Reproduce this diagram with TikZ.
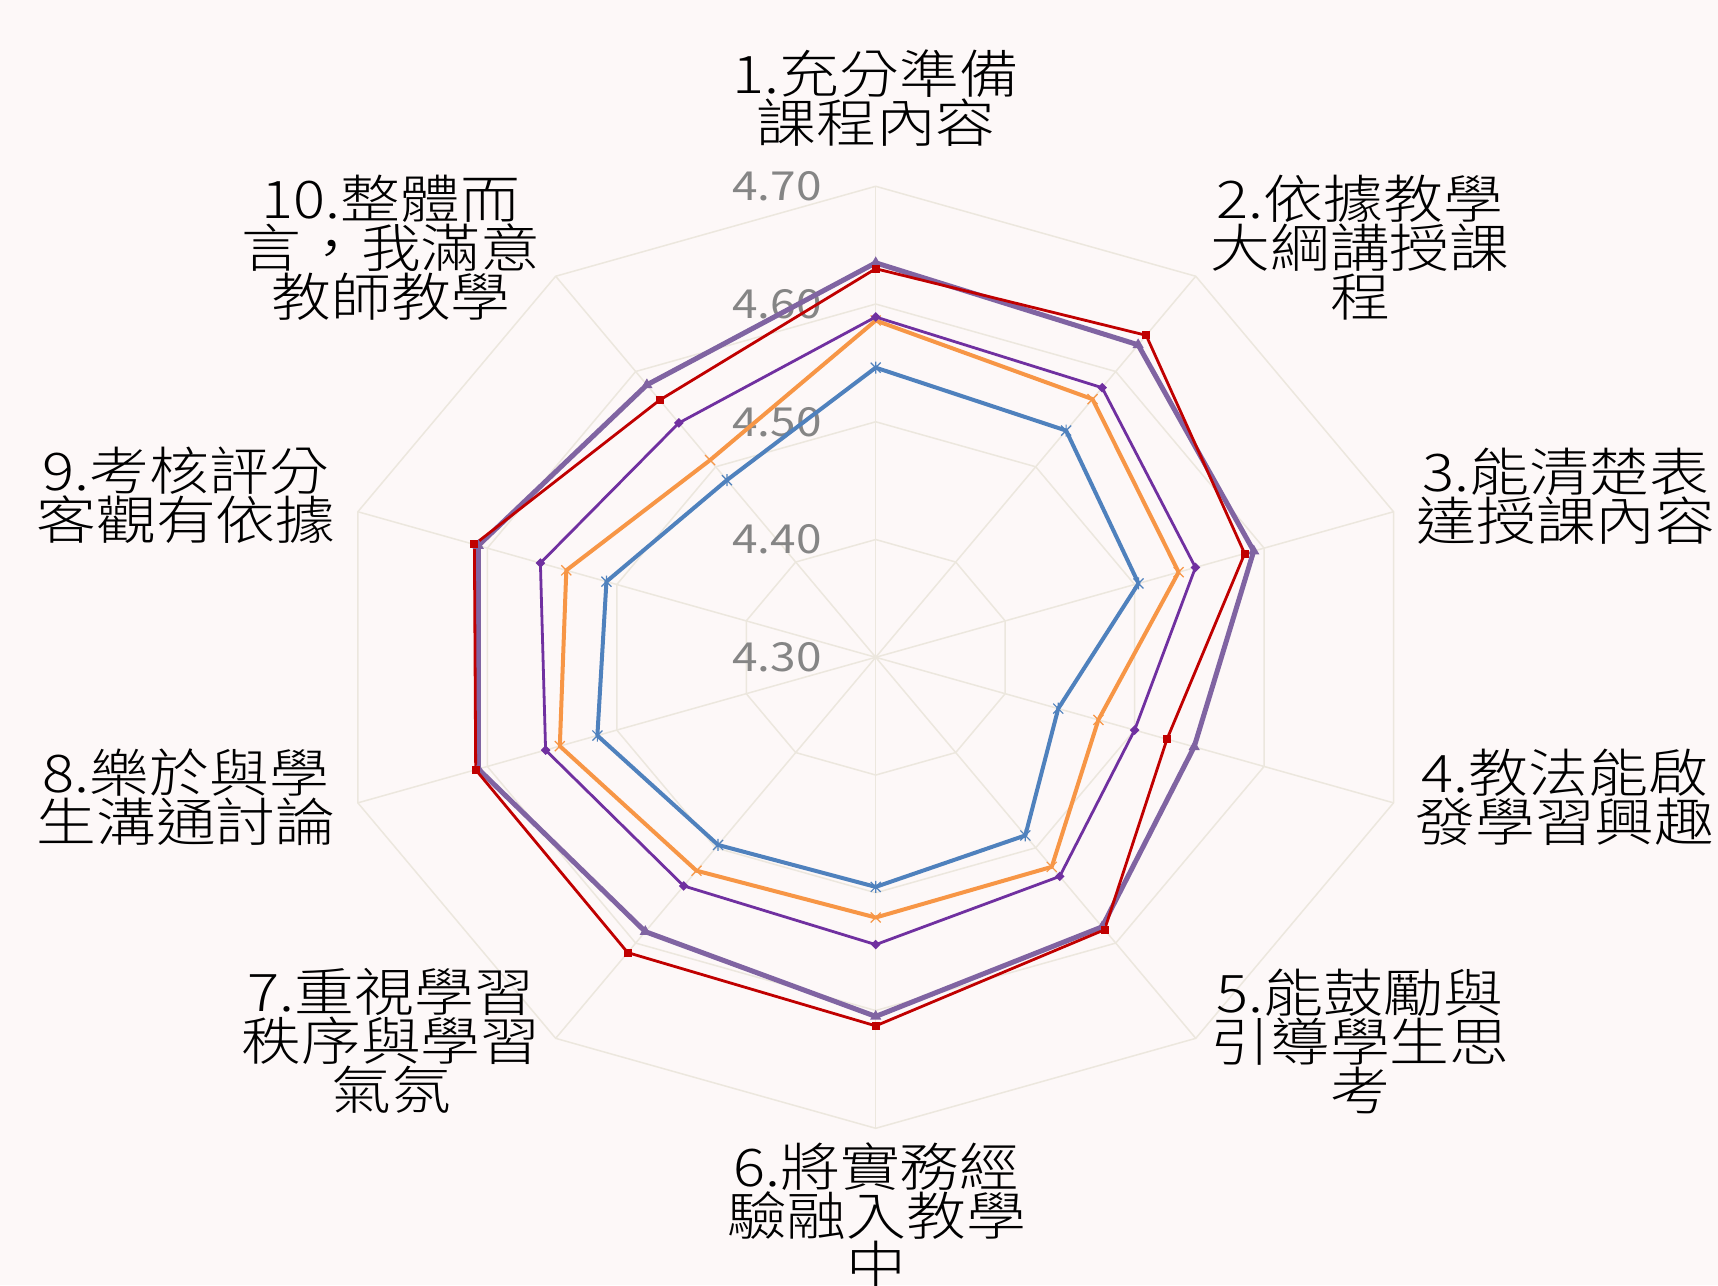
\documentclass[tikz,border=0pt]{standalone}
\usepackage{fontspec}
\setmainfont[FakeStretch=1.15]{Noto Sans CJK TC Light}
\newfontfamily\tickfont[FakeStretch=1.15]{Noto Sans CJK TC}
\usetikzlibrary{shapes.geometric}
\definecolor{bgc}{HTML}{FDF8F8}
\definecolor{gridc}{HTML}{ECE7DE}
\definecolor{sblue}{HTML}{4F81BD}
\definecolor{sorange}{HTML}{F79646}
\definecolor{spurple}{HTML}{7030A0}
\definecolor{sred}{HTML}{C00000}
\definecolor{slav}{HTML}{8064A2}
\definecolor{tickc}{HTML}{858585}
\tikzset{
  gridline/.style={draw=gridc, line width=0.75pt},
  lab/.style={align=center, inner sep=0pt, text=black, font=\fontsize{26}{24.5}\selectfont},
  ticklab/.style={anchor=east, inner sep=0pt, text=tickc, font=\tickfont\fontsize{20}{22}\selectfont},
  serblue/.style={draw=sblue, line width=2pt, line join=round},
  serorange/.style={draw=sorange, line width=2pt, line join=round},
  serpurple/.style={draw=spurple, line width=1.4pt, line join=round},
  serred/.style={draw=sred, line width=1.4pt, line join=round},
  serlav/.style={draw=slav, line width=2.5pt, line join=round},
  mkred/.style={rectangle, fill=sred, minimum size=4pt, inner sep=0pt},
  mkpurple/.style={diamond, fill=spurple, minimum size=5pt, inner sep=0pt},
  mklav/.style={regular polygon, regular polygon sides=3, fill=slav, minimum size=6.5pt, inner sep=0pt},
  mkline/.style={line width=0.6pt},
}
\begin{document}
\begin{tikzpicture}[x=0.5pt,y=0.5pt]
\fill[bgc] (0,0) rectangle (1718,1285);
\useasboundingbox (0,0) rectangle (1718,1285);

\begin{scope}[shift={(875.7,627.7)}, xscale=1.156]
  % grid
  \foreach \k in {1,...,10}
    \draw[gridline] (0,0) -- ({90-36*(\k-1)}:471);
  \foreach \r in {117.75,235.5,353.25,471}
    \draw[gridline] (90:\r) \foreach \k in {2,...,10}{ -- ({90-36*(\k-1)}:\r)} -- cycle;
  % series coordinates
  \foreach \v [count=\k] in {4.546,4.538,4.503,4.441,4.487,4.495,4.497,4.515,4.508,4.486}
    \coordinate (b\k) at ({90-36*(\k-1)}:{(\v-4.3)*1177.5});
  \foreach \v [count=\k] in {4.586,4.571,4.534,4.472,4.520,4.521,4.524,4.544,4.539,4.507}
    \coordinate (o\k) at ({90-36*(\k-1)}:{(\v-4.3)*1177.5});
  \foreach \v [count=\k] in {4.589,4.583,4.547,4.500,4.530,4.544,4.540,4.555,4.559,4.546}
    \coordinate (p\k) at ({90-36*(\k-1)}:{(\v-4.3)*1177.5});
  \foreach \v [count=\k] in {4.630,4.638,4.585,4.525,4.586,4.613,4.610,4.609,4.610,4.570}
    \coordinate (r\k) at ({90-36*(\k-1)}:{(\v-4.3)*1177.5});
  \foreach \v [count=\k] in {4.635,4.628,4.592,4.546,4.583,4.605,4.588,4.607,4.607,4.586}
    \coordinate (l\k) at ({90-36*(\k-1)}:{(\v-4.3)*1177.5});
\end{scope}

% tick labels
\node[ticklab] (t1) at (822,627.7) {4.30};
\node[ticklab] (t2) at (822,745.45) {4.40};
\node[ticklab] (t3) at (822,863.2) {4.50};
\node[ticklab] (t4) at (822,981) {4.60};
\node[ticklab] (t5) at (822,1098.7) {4.70};

% series
\draw[serlav] (l1)--(l2)--(l3)--(l4)--(l5)--(l6)--(l7)--(l8)--(l9)--(l10)--cycle;
\draw[serblue] (b1)--(b2)--(b3)--(b4)--(b5)--(b6)--(b7)--(b8)--(b9)--(b10)--cycle;
\draw[serorange] (o1)--(o2)--(o3)--(o4)--(o5)--(o6)--(o7)--(o8)--(o9)--(o10)--cycle;
\draw[serpurple] (p1)--(p2)--(p3)--(p4)--(p5)--(p6)--(p7)--(p8)--(p9)--(p10)--cycle;
\draw[serred] (r1)--(r2)--(r3)--(r4)--(r5)--(r6)--(r7)--(r8)--(r9)--(r10)--cycle;

% markers
\foreach \k in {1,...,10}{
  \node[mklav] (ml\k) at (l\k) {};
  \draw[mkline, draw=sblue, shift={(b\k)}] (-5,-5) -- (5,5) (-5,5) -- (5,-5) (0,-6) -- (0,6);
  \draw[mkline, draw=sorange, shift={(o\k)}] (-5,-5) -- (5,5) (-5,5) -- (5,-5);
  \node[mkpurple] (mp\k) at (p\k) {};
  \node[mkred] (mr\k) at (r\k) {};
}

% axis labels
\node[lab] (a1) at (876,1186.4) {1.充分準備\\課程內容};
\node[lab] (a2) at (1360,1037) {2.依據教學\\大綱講授課\\程};
\node[lab] (a3) at (1566,789) {3.能清楚表\\達授課內容};
\node[lab] (a4) at (1565,487.3) {4.教法能啟\\發學習興趣};
\node[lab] (a5) at (1360,244) {5.能鼓勵與\\引導學生思\\考};
\node[lab] (a6) at (876.5,69) {6.將實務經\\驗融入教學\\中};
\node[lab] (a7) at (391,244) {7.重視學習\\秩序與學習\\氣氛};
\node[lab] (a8) at (186,488) {8.樂於與學\\生溝通討論};
\node[lab] (a9) at (186,790) {9.考核評分\\客觀有依據};
\node[lab] (a10) at (391,1037) {10.整體而\\言，我滿意\\教師教學};
\end{tikzpicture}
\end{document}
